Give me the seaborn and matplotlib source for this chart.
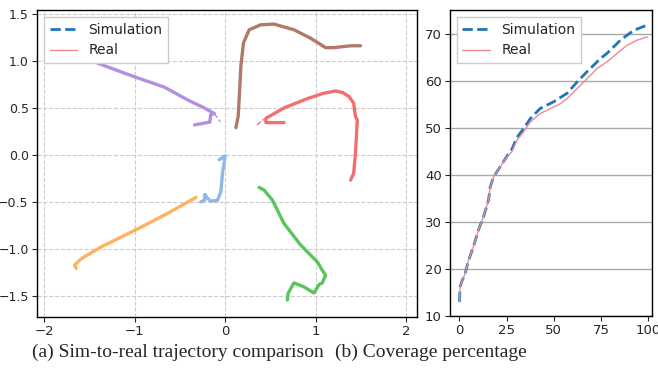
import numpy as np
import matplotlib
matplotlib.use("Agg")
import matplotlib.pyplot as plt
import seaborn as sns

sns.set_style("ticks")
plt.rcParams['font.family'] = ['DejaVu Sans']

# ---- trajectory data (x, y) per robot ----
purple_x = [-1.41, -1.00, -0.67, -0.415, -0.23, -0.12, -0.16, -0.17, -0.34]
purple_y = [0.975, 0.83, 0.72, 0.585, 0.50, 0.44, 0.43, 0.35, 0.32]
brown_x = [0.118, 0.143, 0.154, 0.173, 0.202, 0.265, 0.393, 0.54, 0.76, 0.945, 1.11, 1.20, 1.386, 1.496]
brown_y = [0.29, 0.408, 0.585, 0.94, 1.19, 1.33, 1.383, 1.39, 1.33, 1.24, 1.14, 1.14, 1.16, 1.16]
red_x = [0.65, 0.45, 0.45, 0.65, 0.91, 1.09, 1.22, 1.30, 1.37, 1.42, 1.44, 1.46, 1.44, 1.42, 1.386]
red_y = [0.344, 0.344, 0.39, 0.50, 0.60, 0.656, 0.68, 0.663, 0.62, 0.55, 0.41, 0.37, 0.02, -0.195, -0.266]
blue_x = [-0.066, 0.0, -0.03, -0.048, -0.085, -0.16, -0.195, -0.224, -0.23, -0.27]
blue_y = [-0.05, -0.01, -0.195, -0.39, -0.48, -0.49, -0.46, -0.418, -0.48, -0.497]
orange_x = [-0.324, -0.636, -1.0, -1.37, -1.59, -1.665, -1.647]
orange_y = [-0.45, -0.62, -0.80, -0.975, -1.10, -1.17, -1.205]
green_x = [0.375, 0.43, 0.522, 0.65, 0.835, 1.018, 1.073, 1.11, 1.073, 1.04, 0.98, 0.87, 0.76, 0.724, 0.695, 0.6875]
green_y = [-0.344, -0.372, -0.479, -0.727, -0.957, -1.135, -1.223, -1.277, -1.358, -1.372, -1.465, -1.40, -1.358, -1.418, -1.47, -1.54]

# short simulated start segments visible near the origin
sim_purple_x = [-0.12, -0.055]
sim_purple_y = [0.44, 0.355]
sim_red_x = [0.35, 0.43]
sim_red_y = [0.32, 0.38]

# ---- coverage data ----
real_step = [0, 0.35, 1.2, 3, 4.8, 7.4, 10, 12.7, 15.4, 16.3, 18, 21.6, 25.1, 27.8, 30.4, 34, 37.5,
             42.8, 49.9, 53.5, 57, 62.3, 67.6, 73, 78.2, 83.5, 88.8, 94.2, 99.5]
real_cov = [13.0, 16.2, 17.3, 19.0, 21.8, 24.7, 28.2, 31.0, 34.6, 37.4, 39.5, 41.7, 43.8, 44.9, 47.3, 49.1, 51.2,
            53.0, 54.4, 55.1, 56.2, 58.3, 60.4, 62.6, 64.0, 65.8, 67.5, 68.6, 69.3]
sim_step = [0, 0.35, 1.2, 3, 4.8, 7.4, 10, 12.7, 15.4, 16.3, 18, 21.6, 25.1, 27.8, 30.4, 34, 37.5,
            42.8, 49.9, 57, 62.3, 67.6, 74.7, 78.2, 85.3, 92.4, 99.5]
sim_cov = [13.0, 16.2, 17.3, 19.0, 21.8, 24.7, 28.2, 31.0, 34.6, 37.4, 39.5, 41.7, 43.9, 45.4, 47.9, 49.8, 51.9,
           54.1, 55.5, 57.3, 59.7, 61.9, 64.7, 65.8, 68.6, 70.7, 71.8]

W, H = 658, 370
fig = plt.figure(figsize=(W / 100, H / 100), dpi=100)
ax1 = fig.add_axes([37 / W, 53 / H, 380 / W, 307 / H])
ax2 = fig.add_axes([450 / W, 54 / H, 202 / W, 306 / H])

sim_color = '#1f77b4'
real_color = '#f08896'

# left: trajectories
trajs = [
    (purple_x, purple_y, '#b48fe0'),
    (brown_x, brown_y, '#b07a6a'),
    (red_x, red_y, '#f07070'),
    (blue_x, blue_y, '#8fb8e8'),
    (orange_x, orange_y, '#ffb060'),
    (green_x, green_y, '#5cc45c'),
]
for xs, ys, c in trajs:
    sns.lineplot(x=xs, y=ys, ax=ax1, color=c, lw=2.4, sort=False, estimator=None)
for xs, ys, c in [(sim_purple_x, sim_purple_y, '#b48fe0'), (sim_red_x, sim_red_y, '#f07070')]:
    sns.lineplot(x=xs, y=ys, ax=ax1, color=c, lw=1.0, ls='--', sort=False, estimator=None)

ax1.plot([], [], ls='--', color=sim_color, lw=2, label='Simulation')
ax1.plot([], [], ls='-', color=real_color, lw=1, label='Real')
ax1.set_xlim(-2.08, 2.12)
ax1.set_ylim(-1.72, 1.54)
ax1.set_xticks([-2, -1, 0, 1, 2])
ax1.set_yticks([-1.5, -1.0, -0.5, 0.0, 0.5, 1.0, 1.5])
ax1.grid(True, ls='--', color='#cccccc', lw=0.8)
ax1.legend(loc='upper left', fontsize=10, framealpha=1, fancybox=False, edgecolor='#cccccc')
ax1.tick_params(axis='x', labelsize=9.5, pad=2.5)
ax1.tick_params(axis='y', labelsize=9, pad=2.5)

# right: coverage
sns.lineplot(x=sim_step, y=sim_cov, ax=ax2, color=sim_color, lw=2, ls='--', label='Simulation', estimator=None)
sns.lineplot(x=real_step, y=real_cov, ax=ax2, color=real_color, lw=1, label='Real', estimator=None)
ax2.set_xlim(-5, 102)
ax2.set_ylim(10, 75)
ax2.set_xticks([0, 25, 50, 75, 100])
ax2.set_yticks([10, 20, 30, 40, 50, 60, 70])
ax2.yaxis.grid(True, color='#aaaaaa', lw=1)
ax2.xaxis.grid(False)
ax2.legend(loc='upper left', fontsize=10, framealpha=1, fancybox=False, edgecolor='#cccccc')
ax2.tick_params(labelsize=9.5, pad=2.5)

for ax in (ax1, ax2):
    for s in ax.spines.values():
        s.set_color('black')
        s.set_linewidth(1.0)

fig.text(32 / W, 1 - 352 / H, '(a) Sim-to-real trajectory comparison', family='Liberation Serif',
         fontsize=14, ha='left', va='center')
fig.text(335 / W, 1 - 352 / H, '(b) Coverage percentage', family='Liberation Serif',
         fontsize=14, ha='left', va='center')

fig.savefig('out.png', dpi=100)
